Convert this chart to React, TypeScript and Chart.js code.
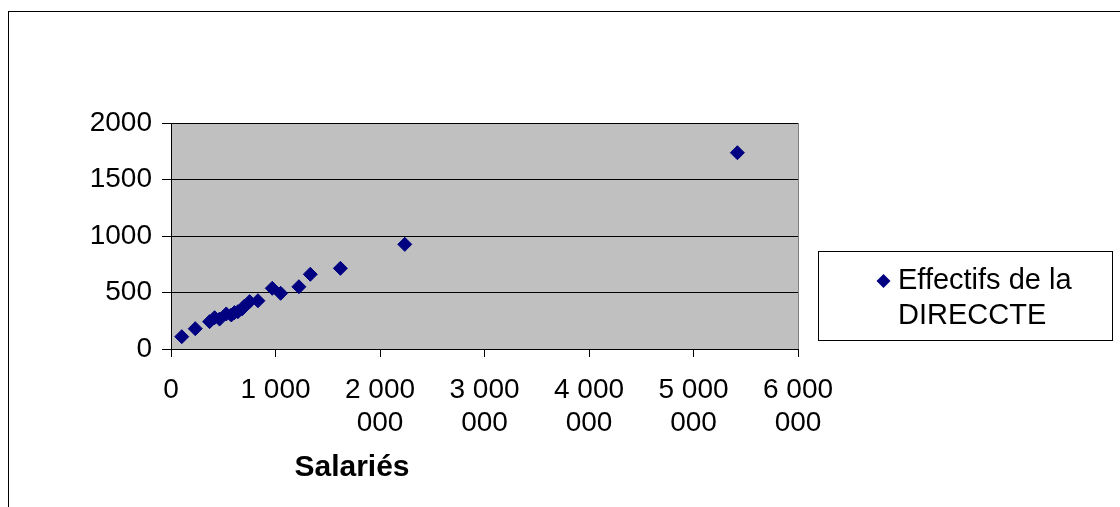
import React, { useEffect, useRef } from "react";
import { Chart, registerables } from "chart.js";

Chart.register(...registerables);

// ---- Data ----
const salaries: number[] = [
  103000, 232000, 369000, 417000, 465000, 529000, 577000, 608000, 640000, 680000,
  704000, 752000, 832000, 969000, 1049000, 1224000, 1333000, 1621000, 2237000, 5420000,
];
const effectifs: number[] = [
  109, 180, 242, 277, 265, 310, 301, 322, 330, 355,
  380, 419, 427, 537, 493, 551, 661, 714, 926, 1737,
];
const xTickLabels: (string | string[])[] = [
  "0",
  ["1 000"],
  ["2 000", "000"],
  ["3 000", "000"],
  ["4 000", "000"],
  ["5 000", "000"],
  ["6 000", "000"],
];
const yTickLabels: string[] = ["0", "500", "1000", "1500", "2000"];
const seriesLabelLines: string[] = ["Effectifs de la", "DIRECCTE"];
const xAxisTitle = "Salariés";

const FONT = "'Liberation Sans', Arial, sans-serif";
const NAVY = "#000080";

export default function App() {
  const canvasRef = useRef<HTMLCanvasElement | null>(null);

  useEffect(() => {
    const canvas = canvasRef.current;
    if (!canvas) return;

    const framePlugin = {
      id: "frame",
      beforeDraw(chart: any) {
        const { ctx, chartArea } = chart;
        ctx.save();
        ctx.fillStyle = "#ffffff";
        ctx.fillRect(0, 0, chart.width, chart.height);
        ctx.strokeStyle = "#000000";
        ctx.lineWidth = 1;
        ctx.strokeRect(8.5, 11.5, chart.width + 20, chart.height + 20);
        ctx.fillStyle = "#c0c0c0";
        ctx.fillRect(chartArea.left, chartArea.top, chartArea.right - chartArea.left, chartArea.bottom - chartArea.top);
        ctx.strokeStyle = "#808080";
        ctx.strokeRect(chartArea.left + 0.5, chartArea.top + 0.5, chartArea.right - chartArea.left, chartArea.bottom - chartArea.top);
        ctx.restore();
      },
      afterDraw(chart: any) {
        const { ctx } = chart;
        ctx.save();
        // x-axis title
        ctx.fillStyle = "#000";
        ctx.font = `bold 30px ${FONT}`;
        ctx.textAlign = "center";
        ctx.textBaseline = "middle";
        ctx.fillText(xAxisTitle, 352, 468);
        // legend box
        ctx.fillStyle = "#fff";
        ctx.fillRect(818.5, 251.5, 294, 89);
        ctx.strokeStyle = "#000";
        ctx.lineWidth = 1;
        ctx.strokeRect(818.5, 251.5, 294, 89);
        // legend marker
        const mx = 883.5, my = 281, r = 7;
        ctx.fillStyle = NAVY;
        ctx.beginPath();
        ctx.moveTo(mx - r, my);
        ctx.lineTo(mx, my - r);
        ctx.lineTo(mx + r, my);
        ctx.lineTo(mx, my + r);
        ctx.closePath();
        ctx.fill();
        // legend text
        ctx.fillStyle = "#000";
        ctx.font = `29px ${FONT}`;
        ctx.textAlign = "left";
        ctx.textBaseline = "middle";
        seriesLabelLines.forEach((line, i) => {
          ctx.fillText(line, 898, 281 + i * 35);
        });
        ctx.restore();
      },
    };

    const chart = new Chart(canvas, {
      type: "scatter",
      data: {
        datasets: [
          {
            label: seriesLabelLines.join(" "),
            data: salaries.map((x, i) => ({ x, y: effectifs[i] })),
            pointStyle: "rectRot",
            pointRadius: 7,
            pointHoverRadius: 7,
            borderWidth: 1,
            backgroundColor: NAVY,
            borderColor: NAVY,
          },
        ],
      },
      options: {
        responsive: false,
        animation: false,
        devicePixelRatio: 1,
        layout: { padding: { left: 0, top: 123, right: 322, bottom: 0 } },
        plugins: {
          legend: { display: false },
          tooltip: { enabled: false },
        },
        scales: {
          x: {
            type: "linear",
            min: 0,
            max: 6000000,
            afterFit(scale: any) {
              scale.height = 158;
            },
            ticks: {
              stepSize: 1000000,
              autoSkip: false,
              maxRotation: 0,
              minRotation: 0,
              padding: 16,
              color: "#000",
              font: { family: FONT, size: 28, lineHeight: 1.2 },
              callback: (_v: any, i: number) => xTickLabels[i],
            },
            grid: {
              drawOnChartArea: false,
              drawTicks: true,
              tickLength: 8,
              color: "#000",
            },
            border: { display: true, color: "#000", width: 1 },
          },
          y: {
            type: "linear",
            min: 0,
            max: 2000,
            afterFit(scale: any) {
              scale.width = 171;
            },
            ticks: {
              stepSize: 500,
              padding: 10,
              color: "#000",
              font: { family: FONT, size: 28 },
              callback: (_v: any, i: number) => yTickLabels[i],
            },
            grid: {
              drawOnChartArea: true,
              drawTicks: true,
              tickLength: 9,
              color: "#000",
            },
            border: { display: true, color: "#000", width: 1 },
          },
        },
      },
      plugins: [framePlugin],
    });

    return () => chart.destroy();
  }, []);

  return (
    <div style={{ position: "absolute", left: 0, top: 0, width: 1120, height: 507 }}>
      <canvas ref={canvasRef} width={1120} height={507} style={{ width: 1120, height: 507, display: "block" }} />
    </div>
  );
}
